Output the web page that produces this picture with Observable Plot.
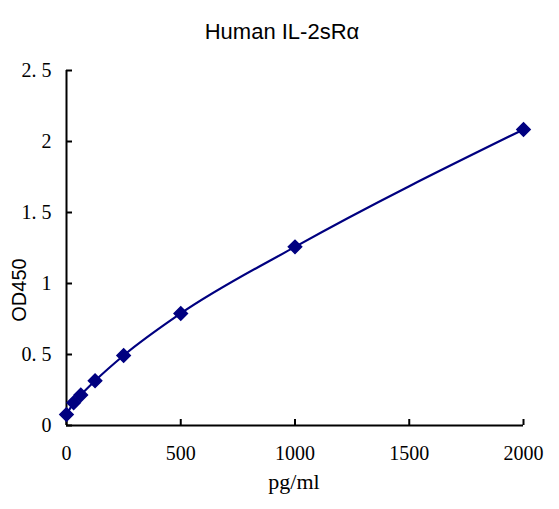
<!DOCTYPE html>
<html>
<head>
<meta charset="utf-8">
<script src="https://cdn.jsdelivr.net/npm/d3@7"></script>
<script src="https://cdn.jsdelivr.net/npm/@observablehq/plot@0.6"></script>
<style>
  body { margin: 0; background: #fff; }
</style>
</head>
<body>
<div id="chart"></div>
<script>
const conc = [0, 31.25, 62.5, 125, 250, 500, 1000, 2000]
const od = [0.077, 0.16, 0.215, 0.315, 0.493, 0.789, 1.258, 2.085]
const xTicks = [0, 500, 1000, 1500, 2000]
const yTicks = [0, 0.5, 1, 1.5, 2, 2.5]
const yLabels = ['0', '0. 5', '1', '1. 5', '2', '2. 5']

const data = conc.map((c, i) => ({conc: c, od: od[i]}))
const serif = '"Liberation Serif", "DejaVu Serif", serif'
const sans = '"Liberation Sans", Arial, sans-serif'

const chart = Plot.plot({
  width: 559,
  height: 509,
  marginLeft: 66,
  marginRight: 36,
  marginTop: 70,
  marginBottom: 84,
  style: {fontFamily: serif, fontSize: '20px', color: '#000', background: '#fff'},
  x: {domain: [0, 2000]},
  y: {domain: [0, 2.5]},
  marks: [
    Plot.axisX({
      ticks: xTicks, tickSize: -6, tickPadding: 26, strokeWidth: 2,
      tickFormat: d => String(d),
      label: null, fontSize: 20, letterSpacing: 2
    }),
    Plot.axisY({
      ticks: yTicks, tickSize: -6, tickPadding: 21, strokeWidth: 2,
      tickFormat: d => yLabels[yTicks.indexOf(d)],
      label: null, fontSize: 20, letterSpacing: 2
    }),
    Plot.ruleY([0], {stroke: '#000', strokeWidth: 2}),
    Plot.ruleX([0], {stroke: '#000', strokeWidth: 2}),
    Plot.line(data, {x: 'conc', y: 'od', stroke: '#000080', strokeWidth: 2.2, curve: 'monotone-x'}),
    Plot.dot(data, {x: 'conc', y: 'od', symbol: 'diamond2', r: 6, fill: '#000080', stroke: '#000080'}),
    Plot.text(['Human IL-2sRα'], {frameAnchor: 'top', dx: -13, dy: -47, fontFamily: sans, fontSize: 22}),
    Plot.text(['OD450'], {frameAnchor: 'left', textAnchor: 'middle', rotate: -90, dx: -47, dy: 42, fontFamily: sans, fontSize: 20}),
    Plot.text(['pg/ml'], {frameAnchor: 'bottom', dx: -1, dy: 63, fontFamily: serif, fontSize: 22, letterSpacing: 3})
  ]
})

d3.select('#chart').append(() => chart)
</script>
</body>
</html>
